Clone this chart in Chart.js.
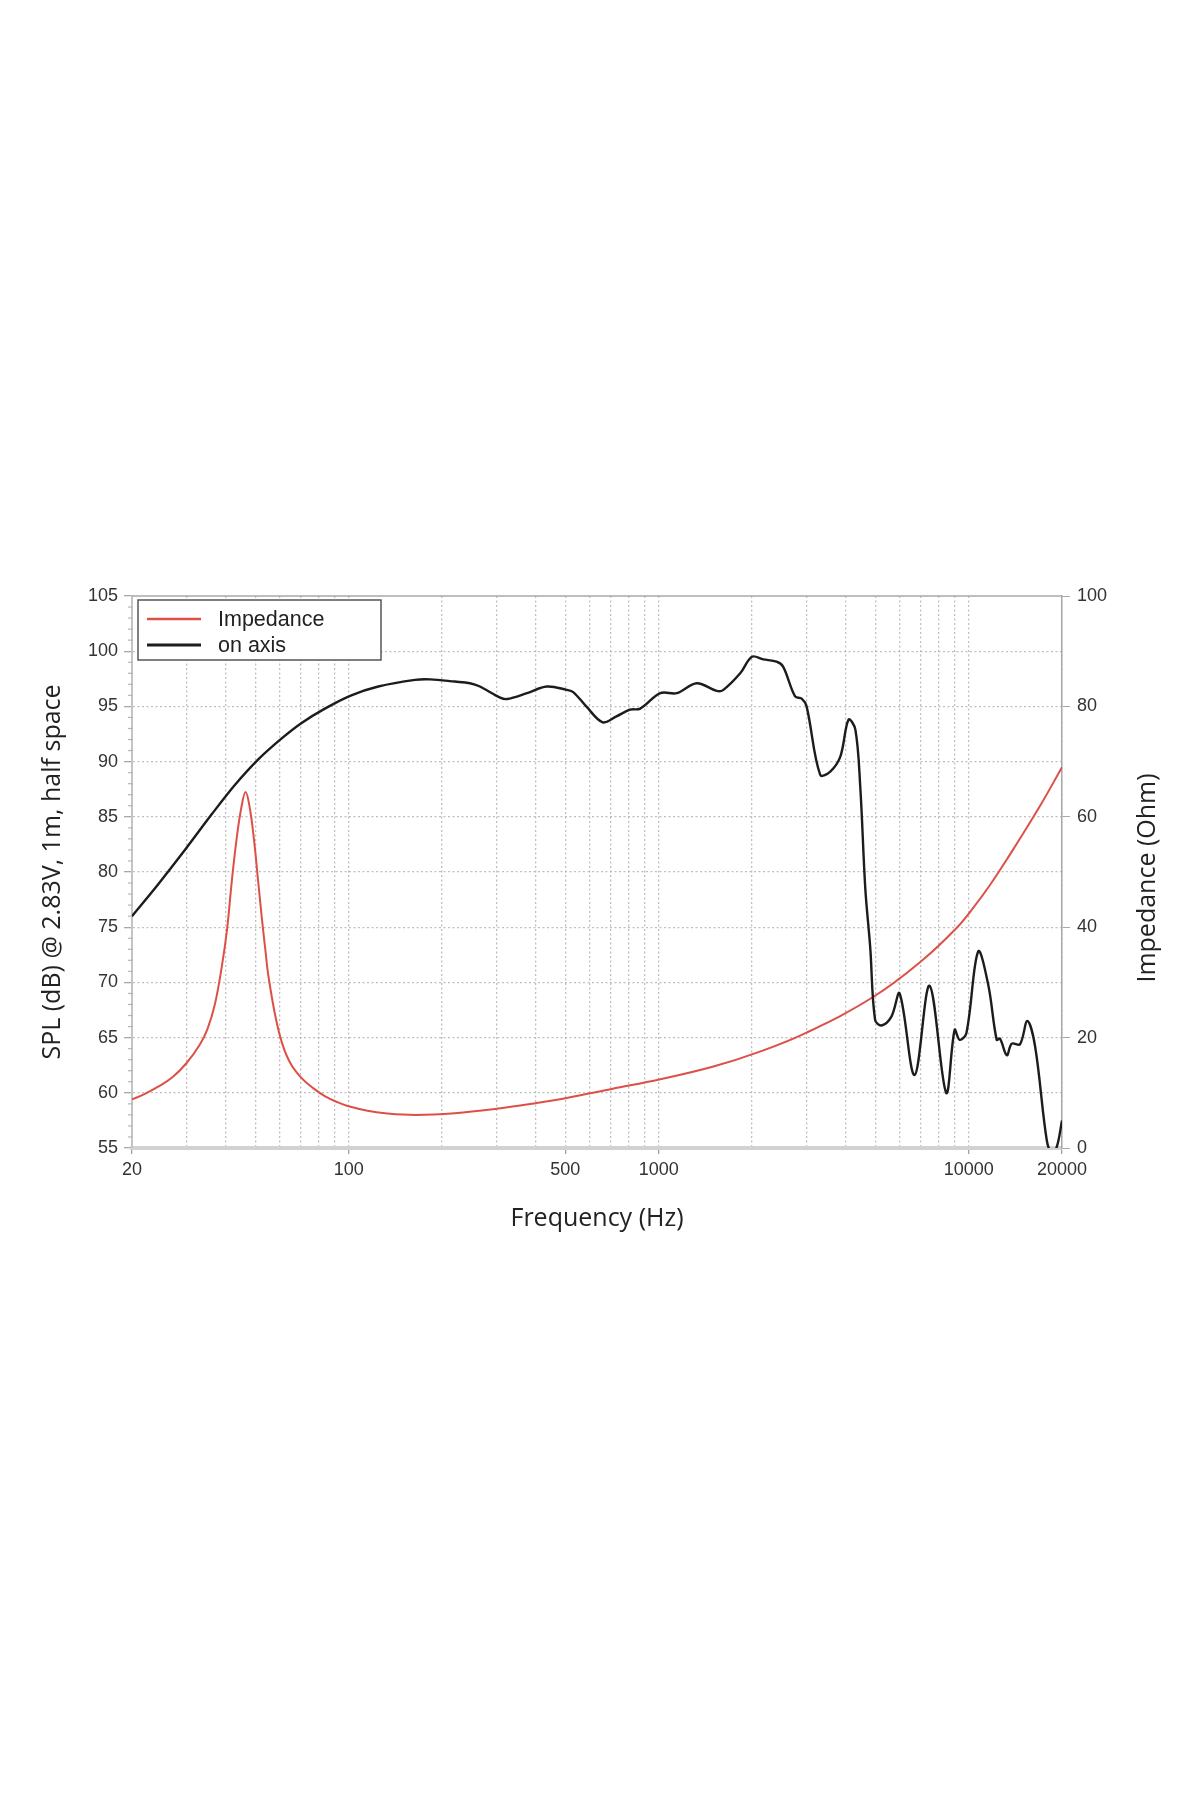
<!DOCTYPE html>
<html>
<head>
<meta charset="utf-8">
<title>SPL and Impedance</title>
<script src="https://cdn.jsdelivr.net/npm/chart.js@4.4.1/dist/chart.umd.min.js"></script>
<style>
  html, body { margin: 0; padding: 0; background: #ffffff; }
  #wrap { width: 1200px; height: 1800px; position: relative; }
</style>
</head>
<body>
<div id="wrap"><canvas id="c" width="1200" height="1800"></canvas></div>
<script>
// ---- data ----
const seriesNames = ["Impedance", "on axis"];

const freqSPL = [20, 24.3, 30, 36.1, 43, 51.1, 60.8, 70.5, 83.8, 102, 124.6, 163.7, 183, 220, 246, 265,
  308, 324, 376, 436, 505, 530, 584, 660, 731, 808, 872, 1012, 1144, 1327, 1539, 1617, 1832, 2000,
  2176, 2400, 2520, 2755, 2893, 3000, 3320, 3577, 3854, 4098, 4310, 4470, 4640, 4812, 4990, 5236,
  5633, 5988, 6690, 7476, 8460, 9010, 9350, 9830, 10730, 11560, 12310, 12620, 13270, 13770, 14640,
  15460, 16380, 17860, 18540, 19240, 20000];
const splValues = [76.0, 78.9, 82.2, 85.2, 87.9, 90.2, 92.1, 93.5, 94.8, 96.0, 96.8, 97.4, 97.45, 97.25, 97.1, 96.8,
  95.8, 95.67, 96.2, 96.8, 96.5, 96.3, 95.0, 93.56, 94.1, 94.7, 94.8, 96.2, 96.2, 97.1, 96.4, 96.5, 98.0, 99.5,
  99.26, 99.05, 98.6, 95.9, 95.7, 95.0, 88.8, 89.1, 90.45, 93.8, 92.9, 87.7, 78.5, 73.2, 66.6, 66.1,
  66.9, 69.0, 61.6, 69.7, 60.0, 65.7, 64.8, 65.4, 72.8, 69.8, 64.8, 64.9, 63.4, 64.45, 64.4,
  66.5, 64.2, 55.7, 54.6, 55.1, 57.5];

const freqImp = [20, 22, 24.3, 27, 30, 33, 35, 37, 39, 40.5, 42, 43.5, 45, 46.5, 48, 49.5, 51, 52.5, 54,
  55, 58, 61, 65, 70.5, 77, 84, 92, 100, 115, 131, 164, 220, 300, 400, 505, 706, 1012, 1502, 2120,
  3000, 4930, 7120, 9120, 10340, 11700, 13270, 17000, 20000];
const impValues = [8.8, 9.8, 11.1, 12.8, 15.4, 18.6, 21.5, 26.0, 33.0, 39.5, 48.5, 56.0, 61.5, 64.5, 61.5, 55.8, 48.55, 41.5, 35.3,
  31.4, 23.9, 18.95, 15.25, 12.65, 10.8, 9.35, 8.3, 7.55, 6.75, 6.3, 6.0, 6.3, 7.1, 8.1, 9.05, 10.7, 12.45, 14.75, 17.45,
  20.9, 27.4, 34.1, 39.8, 43.5, 47.6, 52.25, 62.0, 69.0];

const xTickLabels = [20, 100, 500, 1000, 10000, 20000];
const xGridValues = [20, 30, 40, 50, 60, 70, 80, 90, 100, 200, 300, 400, 500, 600, 700, 800, 900,
  1000, 2000, 3000, 4000, 5000, 6000, 7000, 8000, 9000, 10000, 20000];
const splRange = [55, 105];
const impRange = [0, 100];

const leftTitle = "SPL (dB) @ 2.83V, 1m, half space";
const rightTitle = "Impedance (Ohm)";
const bottomTitle = "Frequency (Hz)";

// ---- styles ----
const RED = "#dd5048";
const BLACK = "#1c1c1c";
const GRID = "rgba(175,175,175,0.8)";
const GRIDDASH = [2, 2.5];
const TICKFONT = { family: "'Liberation Sans', Arial, sans-serif", size: 18 };
const TITLEFONT = { family: "'Open Sans', sans-serif", size: 25 };

const impPoints = freqImp.map((f, i) => ({ x: f, y: impValues[i] }));
const splPoints = freqSPL.map((f, i) => ({ x: f, y: splValues[i] }));

const framePlugin = {
  id: "frame",
  beforeDatasetsDraw(chart) {
    const { ctx, chartArea: a, scales } = chart;
    ctx.save();
    // top border
    ctx.strokeStyle = "#a8a8a8";
    ctx.lineWidth = 1.5;
    ctx.beginPath();
    ctx.moveTo(a.left, a.top);
    ctx.lineTo(a.right, a.top);
    ctx.stroke();
    // minor ticks on left axis
    const y = scales.y;
    ctx.strokeStyle = "#b5b5b5";
    ctx.lineWidth = 1.2;
    for (let v = splRange[0]; v <= splRange[1]; v++) {
      if (v % 5 === 0) continue;
      const py = y.getPixelForValue(v);
      ctx.beginPath();
      ctx.moveTo(a.left - 4, py);
      ctx.lineTo(a.left + 1, py);
      ctx.stroke();
    }
    ctx.restore();
  },
  afterDraw(chart) {
    const { ctx, chartArea: a } = chart;
    ctx.save();
    // right axis title (reads bottom to top)
    ctx.fillStyle = "#222";
    ctx.font = `${TITLEFONT.size}px ${TITLEFONT.family}`;
    ctx.textAlign = "center";
    ctx.textBaseline = "middle";
    ctx.translate(1148, (a.top + a.bottom) / 2 + 6);
    ctx.rotate(-Math.PI / 2);
    ctx.fillText(rightTitle, 0, 0);
    ctx.restore();

    // legend box
    ctx.save();
    const bx = a.left + 6, by = a.top + 4, bw = 243, bh = 60;
    ctx.fillStyle = "#ffffff";
    ctx.fillRect(bx, by, bw, bh);
    ctx.strokeStyle = "#555";
    ctx.lineWidth = 1.5;
    ctx.strokeRect(bx, by, bw, bh);
    ctx.font = `21.5px 'Liberation Sans', Arial, sans-serif`;
    ctx.textBaseline = "middle";
    ctx.textAlign = "left";
    chart.data.datasets.forEach((ds, i) => {
      const ly = by + 19 + i * 26;
      ctx.strokeStyle = ds.borderColor;
      ctx.lineWidth = ds.borderWidth + 0.5;
      ctx.beginPath();
      ctx.moveTo(bx + 9, ly);
      ctx.lineTo(bx + 63, ly);
      ctx.stroke();
      ctx.fillStyle = "#222";
      ctx.fillText(ds.label, bx + 80, ly + 1);
    });
    ctx.restore();
  }
};

new Chart(document.getElementById("c"), {
  type: "line",
  data: {
    datasets: [
      {
        label: seriesNames[0],
        data: impPoints,
        yAxisID: "y1",
        borderColor: RED,
        borderWidth: 2,
        pointRadius: 0,
        fill: false,
        tension: 0.4,
        order: 1
      },
      {
        label: seriesNames[1],
        data: splPoints,
        yAxisID: "y",
        borderColor: BLACK,
        borderWidth: 2.4,
        pointRadius: 0,
        fill: false,
        tension: 0.35,
        order: 0
      }
    ]
  },
  options: {
    responsive: false,
    animation: false,
    devicePixelRatio: 1,
    layout: { padding: { top: 596, left: 34, right: 0, bottom: 562 } },
    plugins: {
      legend: { display: false },
      tooltip: { enabled: false },
      title: { display: false }
    },
    scales: {
      x: {
        type: "logarithmic",
        min: 20,
        max: 20000,
        afterBuildTicks(scale) {
          scale.ticks = xGridValues.map(v => ({ value: v }));
        },
        afterFit(scale) { scale.height = 90; },
        ticks: {
          autoSkip: false,
          maxRotation: 0,
          minRotation: 0,
          padding: 5,
          color: "#333",
          font: TICKFONT,
          callback: (v) => xTickLabels.includes(v) ? String(v) : ""
        },
        grid: {
          color: GRID,
          lineWidth: 1.3,
          tickLength: 6,
          tickColor: (ctx) => (ctx.tick && xTickLabels.includes(ctx.tick.value)) ? "#a0a0a0" : "rgba(0,0,0,0)"
        },
        border: { display: true, color: "#d2d2d2", width: 4, dash: GRIDDASH },
        title: {
          display: true,
          text: bottomTitle,
          color: "#222",
          font: TITLEFONT,
          padding: { top: 4, bottom: 4 }
        }
      },
      y: {
        type: "linear",
        position: "left",
        min: splRange[0],
        max: splRange[1],
        afterFit(scale) { scale.width = 98; },
        ticks: { stepSize: 5, color: "#333", font: TICKFONT, padding: 6, autoSkip: false },
        grid: {
          color: (ctx) => (ctx.tick && (ctx.tick.value === splRange[1] || ctx.tick.value === splRange[0])) ? "rgba(0,0,0,0)" : GRID,
          lineWidth: 1.3,
          tickLength: 8,
          tickColor: "#a8a8a8"
        },
        border: { display: true, color: "#c4c4c4", width: 2, dash: GRIDDASH },
        title: {
          display: true,
          text: leftTitle,
          color: "#222",
          font: TITLEFONT,
          padding: { top: 4, bottom: 4 }
        }
      },
      y1: {
        type: "linear",
        position: "right",
        min: impRange[0],
        max: impRange[1],
        afterFit(scale) { scale.width = 138; },
        ticks: { stepSize: 20, color: "#333", font: TICKFONT, padding: 7, autoSkip: false },
        grid: { drawOnChartArea: false, tickLength: 8, tickColor: "#a8a8a8" },
        border: { display: true, color: "#a8a8a8", width: 1.5 }
      }
    }
  },
  plugins: [framePlugin]
});
</script>
</body>
</html>
